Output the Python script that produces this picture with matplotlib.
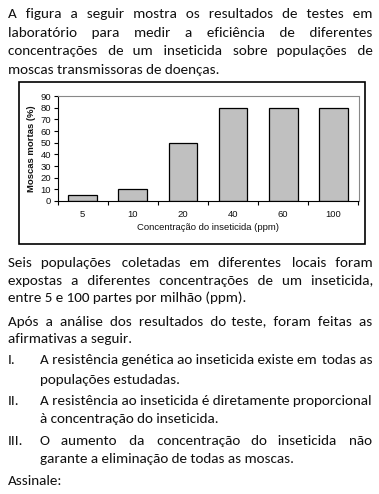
import matplotlib.pyplot as plt
from matplotlib.patches import Rectangle

# chart data
concentracoes = ['5', '10', '20', '40', '60', '100']
mortas = [5, 10, 50, 80, 80, 80]
y_ticks = [0, 10, 20, 30, 40, 50, 60, 70, 80, 90]

W, H = 379, 494
fig = plt.figure(figsize=(W / 100, H / 100), dpi=100)
renderer = fig.canvas.get_renderer()

FAM = ['Carlito', 'DejaVu Sans']
HAIR = '\u200a'


def width(s, size):
    t = fig.text(0, 0, s, family=FAM, fontsize=size)
    w = t.get_window_extent(renderer).width
    t.remove()
    return w


# size the body font so this line is as wide as in the picture (~212 px)
SIZE = 10 * 212 / width('moscas transmissoras de doenças.', 10)
HAIR_W = (width('x' + HAIR * 20 + 'x', SIZE) - width('xx', SIZE)) / 20


def line(s, x0, y, x1=None):
    # x1 given -> justify by padding the gaps with hair spaces
    if x1 is not None:
        words = s.split()
        extra = (x1 - x0) - width(s, SIZE)
        n = len(words) - 1
        out, done = words[0], 0
        for i in range(1, n + 1):
            k = round(extra * i / n / HAIR_W) - done
            done += k
            out += ' ' + HAIR * max(k, 0) + words[i]
        s = out
    fig.text(x0 / W, 1 - y / H, s, va='baseline', ha='left',
             family=FAM, fontsize=SIZE, color='#111111')


L, R = 7.5, 372
line('A figura a seguir mostra os resultados de testes em', L, 18, R)
line('laboratório para medir a eficiência de diferentes', L, 37, R)
line('concentrações de um inseticida sobre populações de', L, 55, R)
line('moscas transmissoras de doenças.', L, 74)

line('Seis populações coletadas em diferentes locais foram', L, 267, R)
line('expostas a diferentes concentrações de um inseticida,', L, 285, R)
line('entre 5 e 100 partes por milhão (ppm).', L, 302)
line('Após a análise dos resultados do teste, foram feitas as', L, 326, R)
line('afirmativas a seguir.', L, 343)

IX = 40
line('I.', L, 364)
line('A resistência genética ao inseticida existe em todas as', IX, 364, R)
line('populações estudadas.', IX, 384)
line('II.', L, 405)
line('A resistência ao inseticida é diretamente proporcional', IX, 405, R)
line('à concentração do inseticida.', IX, 423)
line('III.', L, 445)
line('O aumento da concentração do inseticida não', IX, 445, R)
line('garante a eliminação de todas as moscas.', IX, 463)
line('Assinale:', L, 485)

# frame around the chart
fig.patches.append(Rectangle((18.5 / W, 1 - 244.5 / H), (365 - 18.5) / W, (244.5 - 82.5) / H,
                             transform=fig.transFigure, fill=False, edgecolor='black', lw=1.2))

ax = fig.add_axes([57.5 / W, 1 - 201 / H, (358.5 - 57.5) / W, (201 - 96) / H])
pos = list(range(len(concentracoes)))
ax.bar(pos, mortas, width=0.57, color='#c0c0c0', edgecolor='black', linewidth=0.9)
ax.set_xlim(-0.5, len(concentracoes) - 0.5)
ax.set_ylim(0, 90)

CH = dict(family='Liberation Sans', fontsize=6.8, color='#111111')
ax.set_yticks(y_ticks)
ax.set_yticklabels([str(v) for v in y_ticks], **CH)
ax.set_xticks([p - 0.5 for p in pos] + [len(pos) - 0.5])
ax.set_xticklabels([])
ax.set_xticks(pos, minor=True)
ax.set_xticklabels(concentracoes, minor=True, **CH)
ax.tick_params(axis='x', which='minor', length=0, pad=6.5)
ax.tick_params(axis='x', which='major', length=3, width=0.8, direction='out')
ax.tick_params(axis='y', length=3, width=0.8, pad=1.5)

for s in ['top', 'right']:
    ax.spines[s].set_color('#888888')
    ax.spines[s].set_linewidth(0.8)
for s in ['left', 'bottom']:
    ax.spines[s].set_color('black')
    ax.spines[s].set_linewidth(0.8)

ax.set_xlabel('Concentração do inseticida (ppm)', labelpad=2.5, **CH)
ax.set_ylabel('Moscas mortas (%)', fontweight='bold', labelpad=3, **CH)

plt.savefig('out.png', dpi=100)
